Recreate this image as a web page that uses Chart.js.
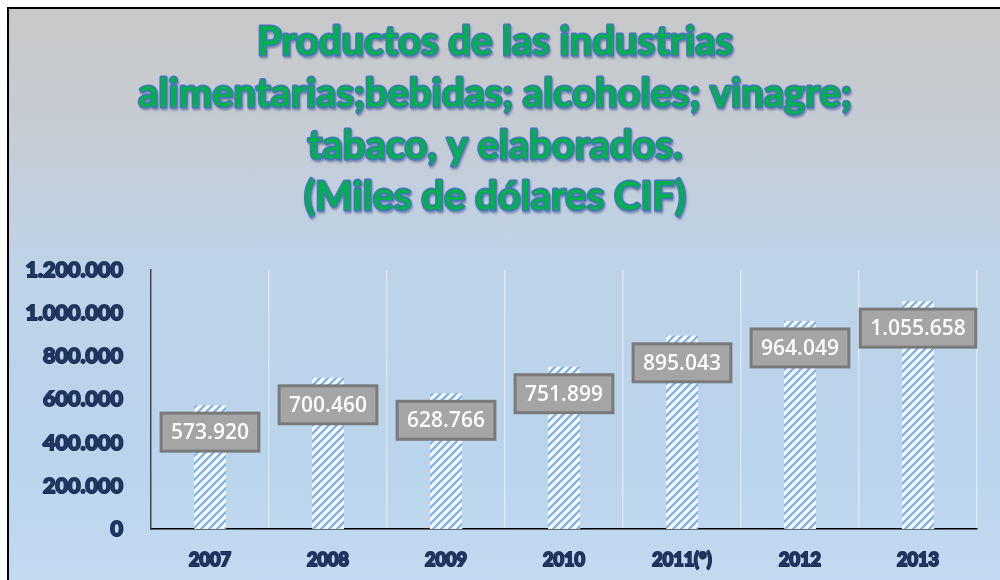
<!DOCTYPE html>
<html>
<head>
<meta charset="utf-8">
<script src="https://cdn.jsdelivr.net/npm/chart.js@4.4.1/dist/chart.umd.min.js"></script>
<style>
  body { margin: 0; background: #fff; overflow: hidden; }
  #wrap {
    position: absolute; left: 7px; top: 7px;
    width: 1000px; height: 600px;
    border: 2px solid #000;
    background: linear-gradient(to bottom, #c8c8c8 0px, #c5ccd4 120px, #bed3e8 260px, #b9d4ec 450px, #c3dbf1 580px);
  }
  #c { position: absolute; left: 0; top: 0; }
</style>
</head>
<body>
<div id="wrap"><canvas id="c" width="991" height="571"></canvas></div>
<script>
const years = ["2007", "2008", "2009", "2010", "2011(*)", "2012", "2013"];
const values = [573920, 700460, 628766, 751899, 895043, 964049, 1055658];
const titleLines = [
  "Productos de las industrias",
  "alimentarias;bebidas; alcoholes; vinagre;",
  "tabaco, y elaborados.",
  "(Miles de dólares CIF)"
];

// dotted looking diagonal stripes like the original fill
function stripes() {
  const p = document.createElement('canvas');
  p.width = 8; p.height = 8;
  const g = p.getContext('2d');
  g.fillStyle = '#ffffff';
  g.fillRect(0, 0, 8, 8);
  g.strokeStyle = '#84b4e3';
  g.lineWidth = 2.5;
  g.beginPath();
  g.moveTo(-2, 10); g.lineTo(10, -2);
  g.moveTo(-2, 2); g.lineTo(2, -2);
  g.moveTo(6, 10); g.lineTo(10, 6);
  g.stroke();
  return g.createPattern(p, 'repeat');
}

function fmt(v) {
  return v.toString().replace(/\B(?=(\d{3})+(?!\d))/g, '.');
}

const titlePlugin = {
  id: 'bigTitle',
  afterDraw(chart) {
    const ctx = chart.ctx;
    ctx.save();
    ctx.font = 'bold 40px Lato';
    ctx.textAlign = 'center';
    ctx.textBaseline = 'alphabetic';
    ctx.lineJoin = 'round';
    const base = [46, 98, 150, 201];
    titleLines.forEach((t, i) => {
      ctx.shadowColor = 'rgba(40,60,120,0.45)';
      ctx.shadowOffsetX = 1; ctx.shadowOffsetY = 2; ctx.shadowBlur = 2;
      ctx.strokeStyle = '#4a72c0';
      ctx.lineWidth = 3;
      ctx.strokeText(t, 486, base[i]);
      ctx.shadowColor = 'transparent';
      ctx.fillStyle = '#00b04f';
      ctx.fillText(t, 486, base[i]);
    });
    ctx.restore();
  }
};

const labelPlugin = {
  id: 'boxLabels',
  afterDatasetsDraw(chart) {
    const ctx = chart.ctx;
    const meta = chart.getDatasetMeta(0);
    ctx.save();
    ctx.font = '600 21px "Open Sans"';
    ctx.textAlign = 'center';
    ctx.textBaseline = 'middle';
    meta.data.forEach((bar, i) => {
      const txt = fmt(values[i]);
      const w = ctx.measureText(txt).width + 20;
      const h = 38;
      const x = bar.x - w / 2;
      const y = bar.y + 8;
      ctx.fillStyle = '#a5a5a5';
      ctx.fillRect(x, y, w, h);
      ctx.strokeStyle = '#7a7a7a';
      ctx.lineWidth = 3;
      ctx.strokeRect(x, y, w, h);
      ctx.fillStyle = '#ffffff';
      ctx.fillText(txt, bar.x, y + h / 2 + 1);
    });
    ctx.restore();
  }
};

new Chart(document.getElementById('c'), {
  type: 'bar',
  data: {
    labels: years,
    datasets: [{
      data: values,
      backgroundColor: stripes(),
      borderWidth: 0,
      barPercentage: 0.27,
      categoryPercentage: 1
    }]
  },
  options: {
    responsive: false,
    animation: false,
    layout: { padding: { top: 261, right: 23, left: 0, bottom: 0 } },
    plugins: {
      legend: { display: false },
      tooltip: { enabled: false },
      title: { display: false }
    },
    scales: {
      x: {
        afterFit(s) { s.height = 51; },
        grid: { color: 'rgba(255,255,255,0.45)', lineWidth: 1.5, drawTicks: false, offset: true },
        border: { color: '#000', width: 1.5 },
        ticks: {
          padding: 20,
          color: '#1f3864',
          font: { family: 'Lato', weight: 'bold', size: 18 },
          textStrokeColor: '#1a2c52',
          textStrokeWidth: 2
        }
      },
      y: {
        min: 0, max: 1200000,
        afterFit(s) { s.width = 142; },
        grid: { display: false, drawTicks: false },
        border: { color: '#3a4250', width: 1.5 },
        ticks: {
          stepSize: 200000,
          padding: 28,
          color: '#1f3864',
          font: { family: 'Lato', weight: 'bold', size: 21.5 },
          textStrokeColor: '#1a2c52',
          textStrokeWidth: 2,
          callback: v => fmt(v)
        }
      }
    }
  },
  plugins: [titlePlugin, labelPlugin]
});
</script>
</body>
</html>
